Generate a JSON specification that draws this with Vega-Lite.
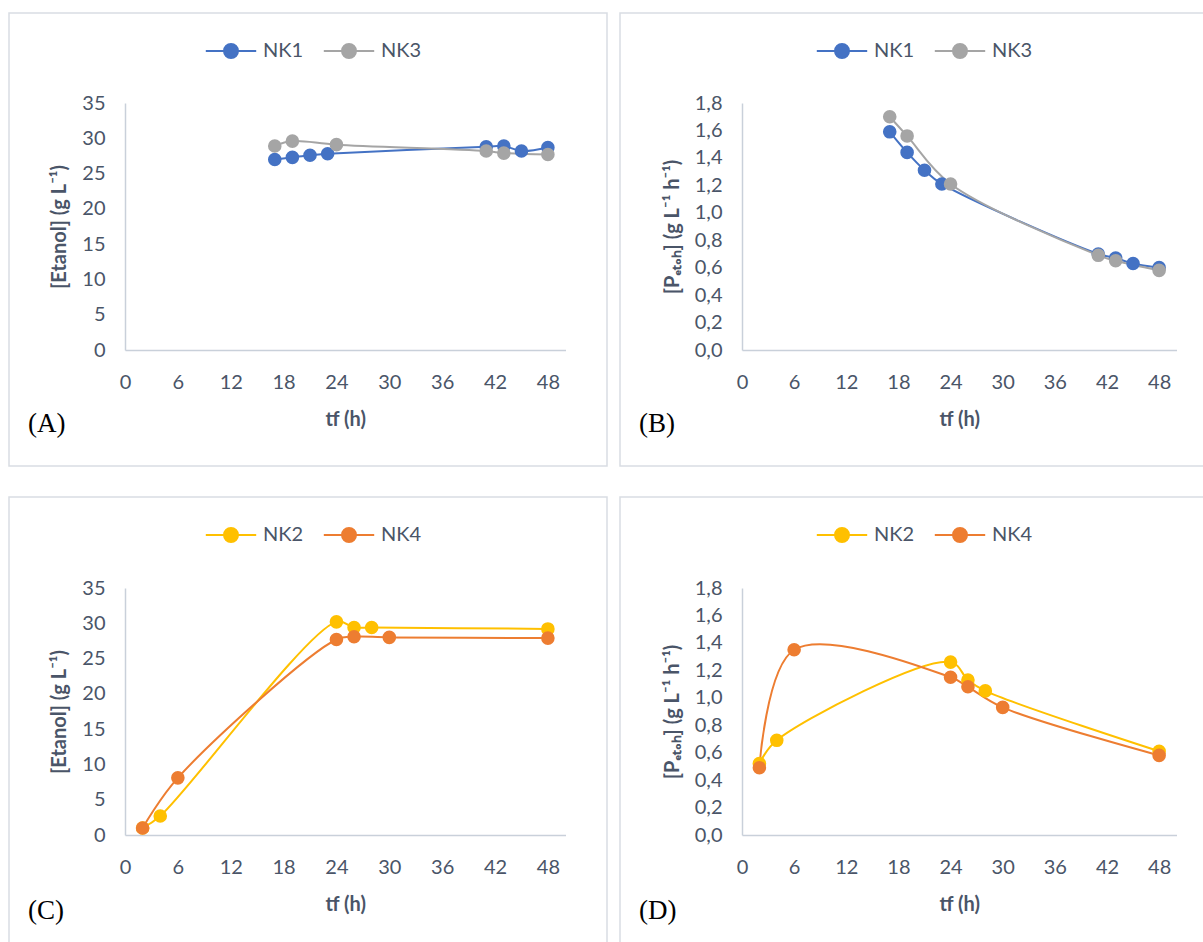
{
  "$schema": "https://vega.github.io/schema/vega-lite/v6.json",
  "background": "white",
  "padding": {"left": 8, "top": 12, "right": 0, "bottom": 0},
  "datasets": {
    "a": [
      {"serie": "NK1", "t": 17, "v": 27.0}, {"serie": "NK1", "t": 19, "v": 27.3}, {"serie": "NK1", "t": 21, "v": 27.6}, {"serie": "NK1", "t": 23, "v": 27.8},
      {"serie": "NK1", "t": 41, "v": 28.8}, {"serie": "NK1", "t": 43, "v": 28.9}, {"serie": "NK1", "t": 45, "v": 28.2}, {"serie": "NK1", "t": 48, "v": 28.7},
      {"serie": "NK3", "t": 17, "v": 28.9}, {"serie": "NK3", "t": 19, "v": 29.6}, {"serie": "NK3", "t": 24, "v": 29.1},
      {"serie": "NK3", "t": 41, "v": 28.2}, {"serie": "NK3", "t": 43, "v": 27.9}, {"serie": "NK3", "t": 48, "v": 27.7}
    ],
    "b": [
      {"serie": "NK1", "t": 17, "v": 1.59}, {"serie": "NK1", "t": 19, "v": 1.44}, {"serie": "NK1", "t": 21, "v": 1.31}, {"serie": "NK1", "t": 23, "v": 1.21},
      {"serie": "NK1", "t": 41, "v": 0.70}, {"serie": "NK1", "t": 43, "v": 0.67}, {"serie": "NK1", "t": 45, "v": 0.63}, {"serie": "NK1", "t": 48, "v": 0.60},
      {"serie": "NK3", "t": 17, "v": 1.70}, {"serie": "NK3", "t": 19, "v": 1.56}, {"serie": "NK3", "t": 24, "v": 1.21},
      {"serie": "NK3", "t": 41, "v": 0.69}, {"serie": "NK3", "t": 43, "v": 0.65}, {"serie": "NK3", "t": 48, "v": 0.58}
    ],
    "c": [
      {"serie": "NK2", "t": 2, "v": 1.0}, {"serie": "NK2", "t": 4, "v": 2.7}, {"serie": "NK2", "t": 24, "v": 30.2},
      {"serie": "NK2", "t": 26, "v": 29.4}, {"serie": "NK2", "t": 28, "v": 29.4}, {"serie": "NK2", "t": 48, "v": 29.2},
      {"serie": "NK4", "t": 2, "v": 1.0}, {"serie": "NK4", "t": 6, "v": 8.1}, {"serie": "NK4", "t": 24, "v": 27.7},
      {"serie": "NK4", "t": 26, "v": 28.1}, {"serie": "NK4", "t": 30, "v": 28.0}, {"serie": "NK4", "t": 48, "v": 27.9}
    ],
    "d": [
      {"serie": "NK2", "t": 2, "v": 0.52}, {"serie": "NK2", "t": 4, "v": 0.69}, {"serie": "NK2", "t": 24, "v": 1.26},
      {"serie": "NK2", "t": 26, "v": 1.13}, {"serie": "NK2", "t": 28, "v": 1.05}, {"serie": "NK2", "t": 48, "v": 0.61},
      {"serie": "NK4", "t": 2, "v": 0.49}, {"serie": "NK4", "t": 6, "v": 1.35}, {"serie": "NK4", "t": 24, "v": 1.15},
      {"serie": "NK4", "t": 26, "v": 1.08}, {"serie": "NK4", "t": 30, "v": 0.93}, {"serie": "NK4", "t": 48, "v": 0.58}
    ]
  },
  "vconcat": [
    {
      "hconcat": [
        {
          "width": 598, "height": 453,
          "data": {"name": "a"},
          "title": {"text": "(A)", "orient": "bottom", "anchor": "start", "frame": "group", "offset": -55, "dx": 19},
          "encoding": {
            "x": {"field": "t", "type": "quantitative",
              "scale": {"domain": [0, 50], "range": [116, 556.5], "nice": false, "zero": false},
              "axis": {"values": [0, 6, 12, 18, 24, 30, 36, 42, 48], "offset": -116, "title": "tf (h)"}},
            "y": {"field": "v", "type": "quantitative",
              "scale": {"domain": [0, 35], "range": [337, 90], "nice": false},
              "axis": {"values": [0, 5, 10, 15, 20, 25, 30, 35], "offset": -116, "title": "[Etanol] (g L⁻¹)"}},
            "color": {"field": "serie", "type": "nominal",
              "scale": {"domain": ["NK1", "NK3"], "range": ["#4472C4", "#A5A5A5"]},
              "legend": {"encode": {"symbols": {"update": {
                "fill": {"signal": "datum.value === 'NK1' ? '#4472C4' : '#A5A5A5'"},
                "stroke": {"signal": "datum.value === 'NK1' ? '#4472C4' : '#A5A5A5'"},
                "opacity": {"value": 1}}}}}}
          },
          "layer": [
            {"mark": {"type": "line", "interpolate": "catmull-rom", "strokeWidth": 2}},
            {"mark": {"type": "point", "filled": true, "size": 185, "opacity": 1}}
          ]
        },
        {
          "width": 586, "height": 453,
          "data": {"name": "b"},
          "title": {"text": "(B)", "orient": "bottom", "anchor": "start", "frame": "group", "offset": -55, "dx": 19},
          "encoding": {
            "x": {"field": "t", "type": "quantitative",
              "scale": {"domain": [0, 50], "range": [122, 556.5], "nice": false, "zero": false},
              "axis": {"values": [0, 6, 12, 18, 24, 30, 36, 42, 48], "offset": -116, "title": "tf (h)"}},
            "y": {"field": "v", "type": "quantitative",
              "scale": {"domain": [0, 1.8], "range": [337, 90], "nice": false},
              "axis": {"values": [0, 0.2, 0.4, 0.6, 0.8, 1.0, 1.2, 1.4, 1.6, 1.8], "offset": -122,
                "labelExpr": "replace(format(datum.value, '.1f'), '.', ',')",
                "title": "[Pₑₜₒₕ] (g L⁻¹ h⁻¹)"}},
            "color": {"field": "serie", "type": "nominal",
              "scale": {"domain": ["NK1", "NK3"], "range": ["#4472C4", "#A5A5A5"]},
              "legend": {"encode": {"symbols": {"update": {
                "fill": {"signal": "datum.value === 'NK1' ? '#4472C4' : '#A5A5A5'"},
                "stroke": {"signal": "datum.value === 'NK1' ? '#4472C4' : '#A5A5A5'"},
                "opacity": {"value": 1}}}}}}
          },
          "layer": [
            {"mark": {"type": "line", "interpolate": "catmull-rom", "strokeWidth": 2}},
            {"mark": {"type": "point", "filled": true, "size": 185, "opacity": 1}}
          ]
        }
      ],
      "spacing": 11,
      "resolve": {"scale": {"color": "independent", "x": "independent", "y": "independent"}, "legend": {"color": "independent"}}
    },
    {
      "hconcat": [
        {
          "width": 598, "height": 448,
          "data": {"name": "c"},
          "title": {"text": "(C)", "orient": "bottom", "anchor": "start", "frame": "group", "offset": -47, "dx": 19},
          "encoding": {
            "x": {"field": "t", "type": "quantitative",
              "scale": {"domain": [0, 50], "range": [116, 556.5], "nice": false, "zero": false},
              "axis": {"values": [0, 6, 12, 18, 24, 30, 36, 42, 48], "offset": -110, "title": "tf (h)"}},
            "y": {"field": "v", "type": "quantitative",
              "scale": {"domain": [0, 35], "range": [338, 91], "nice": false},
              "axis": {"values": [0, 5, 10, 15, 20, 25, 30, 35], "offset": -116, "title": "[Etanol] (g L⁻¹)"}},
            "color": {"field": "serie", "type": "nominal",
              "scale": {"domain": ["NK2", "NK4"], "range": ["#FFC000", "#ED7D31"]},
              "legend": {"encode": {"symbols": {"update": {
                "fill": {"signal": "datum.value === 'NK2' ? '#FFC000' : '#ED7D31'"},
                "stroke": {"signal": "datum.value === 'NK2' ? '#FFC000' : '#ED7D31'"},
                "opacity": {"value": 1}}}}}}
          },
          "layer": [
            {"mark": {"type": "line", "interpolate": "catmull-rom", "strokeWidth": 2}},
            {"mark": {"type": "point", "filled": true, "size": 185, "opacity": 1}}
          ]
        },
        {
          "width": 586, "height": 448,
          "data": {"name": "d"},
          "title": {"text": "(D)", "orient": "bottom", "anchor": "start", "frame": "group", "offset": -47, "dx": 19},
          "encoding": {
            "x": {"field": "t", "type": "quantitative",
              "scale": {"domain": [0, 50], "range": [122, 556.5], "nice": false, "zero": false},
              "axis": {"values": [0, 6, 12, 18, 24, 30, 36, 42, 48], "offset": -110, "title": "tf (h)"}},
            "y": {"field": "v", "type": "quantitative",
              "scale": {"domain": [0, 1.8], "range": [338, 91], "nice": false},
              "axis": {"values": [0, 0.2, 0.4, 0.6, 0.8, 1.0, 1.2, 1.4, 1.6, 1.8], "offset": -122,
                "labelExpr": "replace(format(datum.value, '.1f'), '.', ',')",
                "title": "[Pₑₜₒₕ] (g L⁻¹ h⁻¹)"}},
            "color": {"field": "serie", "type": "nominal",
              "scale": {"domain": ["NK2", "NK4"], "range": ["#FFC000", "#ED7D31"]},
              "legend": {"encode": {"symbols": {"update": {
                "fill": {"signal": "datum.value === 'NK2' ? '#FFC000' : '#ED7D31'"},
                "stroke": {"signal": "datum.value === 'NK2' ? '#FFC000' : '#ED7D31'"},
                "opacity": {"value": 1}}}}}}
          },
          "layer": [
            {"mark": {"type": "line", "interpolate": "catmull-rom", "strokeWidth": 2}},
            {"mark": {"type": "point", "filled": true, "size": 185, "opacity": 1}}
          ]
        }
      ],
      "spacing": 11,
      "resolve": {"scale": {"color": "independent", "x": "independent", "y": "independent"}, "legend": {"color": "independent"}}
    }
  ],
  "spacing": 29,
  "resolve": {"scale": {"color": "independent", "x": "independent", "y": "independent"}, "legend": {"color": "independent"}},
  "config": {
    "font": "Lato",
    "view": {"stroke": "#d9dde3", "strokeWidth": 1.5, "fill": "white"},
    "title": {"font": "Liberation Serif", "fontSize": 27, "fontWeight": "normal", "color": "black"},
    "axis": {
      "domainColor": "#c9d0da", "domainWidth": 1.5, "ticks": false, "tickSize": 0, "grid": false,
      "labelFont": "Lato", "labelFontSize": 20, "labelColor": "#4a5568", "labelFlush": false, "labelOverlap": false,
      "titleFont": "Lato", "titleFontSize": 20, "titleFontWeight": "bold", "titleColor": "#4a5568"
    },
    "axisX": {"labelPadding": 22, "titlePadding": 17},
    "axisY": {"labelPadding": 20, "titlePadding": 12},
    "legend": {
      "title": null, "orient": "none", "legendX": 212, "legendY": 28, "direction": "horizontal",
      "symbolType": "M-3.6,0L3.6,0M-1,0A1,1,0,1,1,1,0A1,1,0,1,1,-1,0Z",
      "symbolSize": 196, "symbolStrokeWidth": 2,
      "labelFont": "Lato", "labelFontSize": 20, "labelColor": "#4a5568",
      "labelOffset": 22, "columnPadding": 15
    }
  }
}
